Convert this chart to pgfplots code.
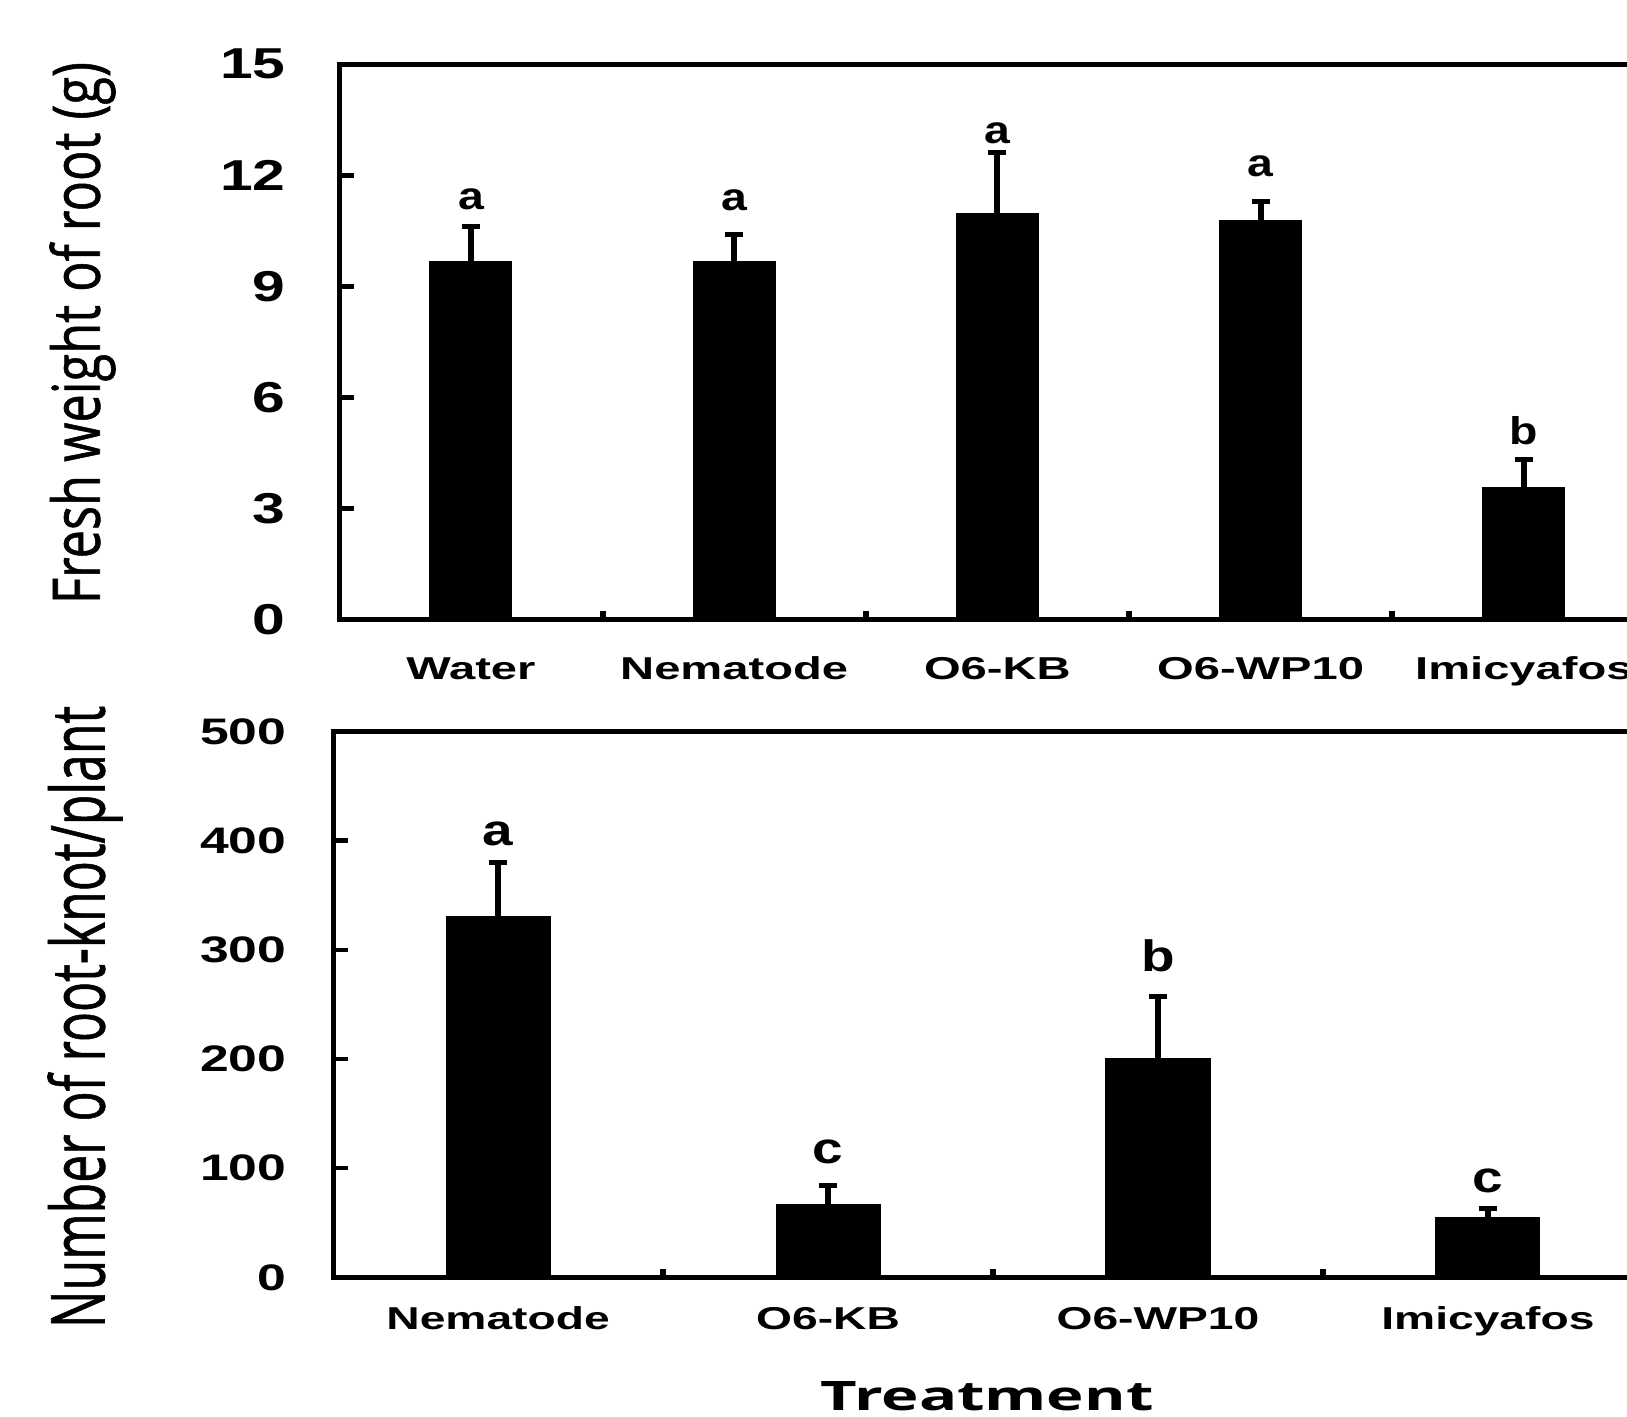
\documentclass[border=0pt]{standalone}
\usepackage{pgfplots}
\pgfplotsset{compat=1.18}
\usepackage{pgfplotstable}
\usepackage{fontspec}
\setmainfont{Liberation Sans}
\newfontfamily\osans[FakeBold=1]{Open Sans}
\newfontfamily\osansb{Open Sans}
\newcommand{\hs}[2]{\scalebox{#1}[1]{#2}}

\pgfplotstableread{
x y e
0 9.67 0.96
1 9.67 0.73
2 10.96 1.66
3 10.77 0.53
4 3.56 0.76
}\topdata
\pgfplotstableread{
x y e
0 330.8 49.2
1 66.5 17.2
2 200.6 57.0
3 55.1 7.6
}\botdata

\begin{document}
\begin{tikzpicture}
\path[use as bounding box] (0,0) rectangle (162.7mm,-141.6mm);
\fill[white] (0,0) rectangle (162.7mm,-141.6mm);
\clip (0,0) rectangle (162.7mm,-141.6mm);
\pgfplotsset{
 common/.style={
  scale only axis, ybar,
  axis line style={line width=0.5mm},
  enlargelimits=false,
  xtick pos=bottom, ytick pos=left,
  tick align=inside,
  major tick length=1.5mm,
  minor tick length=0.8mm,
  major tick style={line width=0.45mm, black},
  major x tick style={draw=none},
  minor x tick style={line width=0.6mm, black},
  xtick=data,
  ymin=0,
  yticklabel style={anchor=east, inner sep=0pt},
  xticklabel style={anchor=base, inner sep=0pt, font=\bfseries\fontsize{9}{10}\selectfont},
 },
 barplot/.style={fill=black, draw=black, line width=0.3pt,
  error bars/.cd, y dir=plus, y explicit,
  error bar style={line width=0.6mm, black},
  error mark=-,
  error mark options={rotate=90, line width=0.5mm, mark size=0.9mm, black}},
}
\begin{axis}[common, at={(33.93mm,-61.94mm)}, anchor=south west,
  width=131.62mm, height=55.51mm, xmin=-0.5, xmax=4.5, ymax=15,
  bar width=8.2mm,
  ytick={0,3,6,9,12,15},
  yticklabels={\hs{1.36}{0},\hs{1.36}{3},\hs{1.36}{6},\hs{1.36}{9},\hs{1.36}{12},\hs{1.36}{15}},
  yticklabel style={xshift=-5.3mm, font=\bfseries\fontsize{12.3}{14}\selectfont},
  xticklabels={\hs{1.49}{Water},\hs{1.49}{Nematode},\hs{1.49}{O6-KB},\hs{1.49}{O6-WP10},\hs{1.49}{Imicyafos}},
  xticklabel style={yshift=-6.0mm},
  minor xtick={0.5,1.5,2.5,3.5},
]
\addplot[barplot] table[x=x, y=y, y error=e] {\topdata};
\node[anchor=base, font=\bfseries\fontsize{11}{12}\selectfont] at (axis cs:0,11.09) {\hs{1.2}{a}};
\node[anchor=base, font=\bfseries\fontsize{11}{12}\selectfont] at (axis cs:1,11.05) {\hs{1.2}{a}};
\node[anchor=base, font=\bfseries\fontsize{11}{12}\selectfont] at (axis cs:2,12.85) {\hs{1.2}{a}};
\node[anchor=base, font=\bfseries\fontsize{11}{12}\selectfont] at (axis cs:3,11.97) {\hs{1.2}{a}};
\node[anchor=base, font=\bfseries\fontsize{11}{12}\selectfont] at (axis cs:4,4.74) {\hs{1.2}{b}};
\end{axis}
\begin{axis}[common, at={(33.31mm,-127.73mm)}, anchor=south west,
  width=131.98mm, height=54.58mm, xmin=-0.5, xmax=3.5, ymax=500,
  bar width=10.4mm,
  ytick={0,100,200,300,400,500},
  yticklabels={\hs{1.4}{0},\hs{1.4}{100},\hs{1.4}{200},\hs{1.4}{300},\hs{1.4}{400},\hs{1.4}{500}},
  yticklabel style={xshift=-4.6mm, font=\bfseries\fontsize{10.5}{12}\selectfont},
  xticklabels={\hs{1.46}{Nematode},\hs{1.46}{O6-KB},\hs{1.46}{O6-WP10},\hs{1.46}{Imicyafos}},
  xticklabel style={yshift=-5.2mm},
  minor xtick={0.5,1.5,2.5},
]
\addplot[barplot] table[x=x, y=y, y error=e] {\botdata};
\node[anchor=base, font=\bfseries\fontsize{12.5}{14}\selectfont] at (axis cs:0,395.4) {\hs{1.25}{a}};
\node[anchor=base, font=\bfseries\fontsize{12.5}{14}\selectfont] at (axis cs:1,104.7) {\hs{1.25}{c}};
\node[anchor=base, font=\bfseries\fontsize{12.5}{14}\selectfont] at (axis cs:2,280.6) {\hs{1.25}{b}};
\node[anchor=base, font=\bfseries\fontsize{12.5}{14}\selectfont] at (axis cs:3,78.1) {\hs{1.25}{c}};
\end{axis}
\node[inner sep=0pt] at (8.25mm,-33.3mm) {\rotatebox{90}{\resizebox*{54.2mm}{6.6mm}{\osans Fresh weight of root (g)}}};
\node[inner sep=0pt] at (8.5mm,-101.7mm) {\rotatebox{90}{\resizebox*{62.2mm}{7.5mm}{\osans Number of root-knot/plant}}};
\node[inner sep=0pt, anchor=base] at (98.7mm,-141.0mm) {\resizebox{33.3mm}{2.9mm}{\osansb\bfseries Treatment}};
\end{tikzpicture}
\end{document}
